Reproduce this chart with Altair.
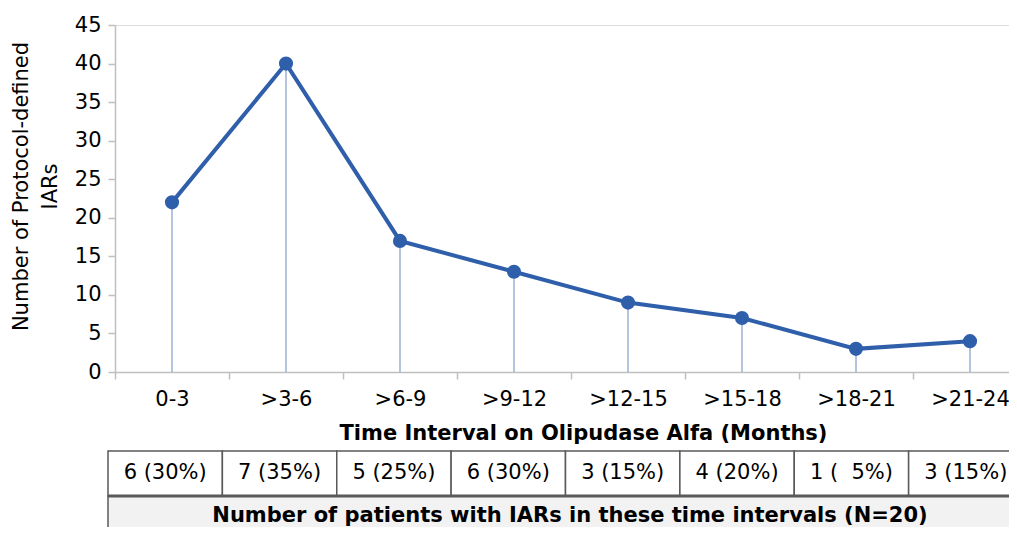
import altair as alt
import pandas as pd

categories = ["0-3", ">3-6", ">6-9", ">9-12", ">12-15", ">15-18", ">18-21", ">21-24"]
iars = [22, 40, 17, 13, 9, 7, 3, 4]
patients = ["6 (30%)", "7 (35%)", "5 (25%)", "6 (30%)", "3 (15%)", "4 (20%)", "1 (\u00a0\u00a05%)", "3 (15%)"]
header = ["Number of patients with IARs in these time intervals (N=20)"]
y_ticks = [0, 5, 10, 15, 20, 25, 30, 35, 40, 45]

FONT = "DejaVu Sans"
FS = 21
BLUE = "#2F5FAA"
DROP = "#9DB0D3"
AXIS = "#BFBFBF"
BORDER = "#595959"

df = pd.DataFrame({"cat": categories, "iars": iars, "pat": patients})
hdr = pd.DataFrame({"label": header})

xscale = alt.Scale(domain=categories, range=[0, 912], paddingInner=0, paddingOuter=0)
x_enc = alt.X(
    "cat:N",
    sort=categories,
    scale=xscale,
    axis=alt.Axis(
        title="Time Interval on Olipudase Alfa (Months)",
        titleFontSize=FS,
        titleFontWeight="bold",
        titleFont=FONT,
        titleColor="black",
        titleX=468,
        titleY=61,
        titleBaseline="middle",
        titleAnchor="start",
        titleAlign="center",
        labelAngle=0,
        labelFontSize=FS,
        labelFont=FONT,
        labelColor="black",
        labelPadding=9,
        tickBand="extent",
        tickSize=7,
        tickColor=AXIS,
        domainColor=AXIS,
        domainWidth=1.5,
        tickWidth=1.5,
        grid=False,
    ),
)
y_enc = alt.Y(
    "iars:Q",
    scale=alt.Scale(domain=[0, 45], nice=False),
    axis=alt.Axis(
        values=y_ticks,
        title=["Number of Protocol-defined", "IARs"],
        titleFontSize=FS,
        titleFontWeight="normal",
        titleFont=FONT,
        titleColor="black",
        titleX=-94,
        titleY=161,
        titleAngle=270,
        titleBaseline="middle",
        titleAlign="center",
        titleLineHeight=29,
        labelFontSize=FS,
        labelFont=FONT,
        labelColor="black",
        labelPadding=7,
        tickSize=7,
        tickColor=AXIS,
        domainColor=AXIS,
        domainWidth=1.5,
        tickWidth=1.5,
        grid=False,
    ),
)

drops = alt.Chart(df).mark_rule(color=DROP, strokeWidth=1.5).encode(
    x=x_enc, y=y_enc, y2=alt.datum(0)
)
line = alt.Chart(df).mark_line(color=BLUE, strokeWidth=4).encode(x=x_enc, y=y_enc)
pts = alt.Chart(df).mark_point(filled=True, color=BLUE, size=200, opacity=1).encode(x=x_enc, y=y_enc)

tscale = alt.Scale(domain=categories, range=[-7, 908], paddingInner=0, paddingOuter=0)
tx = alt.X("cat:N", sort=categories, scale=tscale, axis=None)

cells = alt.Chart(df).mark_rect(fill="white", stroke=BORDER, strokeWidth=1.5).encode(
    x=tx, y=alt.value(426), y2=alt.value(471)
)
cell_text = alt.Chart(df).mark_text(
    fontSize=FS, font=FONT, color="black", baseline="middle"
).encode(x=tx, y=alt.value(448), text="pat:N")

hdr_rect = alt.Chart(hdr).mark_rect(fill="#F2F2F2", stroke=BORDER, strokeWidth=1.5).encode(
    x=alt.value(-7), x2=alt.value(1000), y=alt.value(471), y2=alt.value(530)
)
hdr_line = alt.Chart(hdr).mark_rule(color=BORDER, strokeWidth=3).encode(
    x=alt.value(-7), x2=alt.value(1000), y=alt.value(471)
)
hdr_text = alt.Chart(hdr).mark_text(
    fontSize=FS, font=FONT, fontWeight="bold", color="black", baseline="middle"
).encode(x=alt.value(455), y=alt.value(491), text="label:N")

main = alt.layer(drops, line, pts)
table = alt.layer(cells, cell_text)

chart = (
    alt.layer(main, table, hdr_rect, hdr_line, hdr_text)
    .resolve_scale(x="independent")
    .properties(
        width=894,
        height=347,
        padding={"left": 107, "top": 17, "right": 0, "bottom": 155},
        autosize=alt.AutoSizeParams(type="none"),
    )
    .configure_view(stroke=None)
    .configure(background="white")
)

chart.save("out.html", embed_options={"renderer": "svg", "actions": False})
